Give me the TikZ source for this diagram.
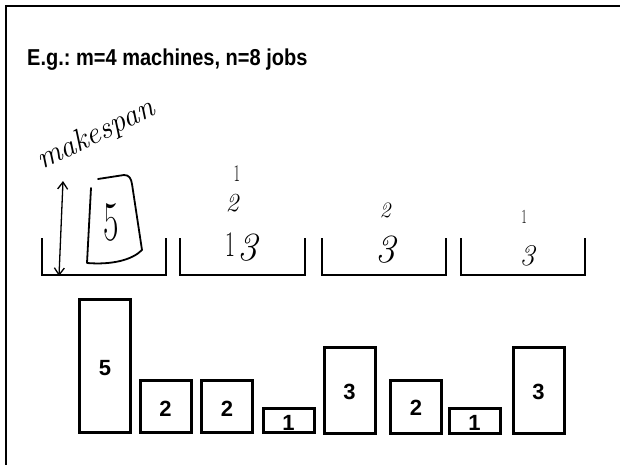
\documentclass[tikz,border=0pt]{standalone}
\usepackage{fontspec}
\newfontfamily\sansb{Liberation Sans}
\usetikzlibrary{arrows.meta}
\frenchspacing
\begin{document}
\begin{tikzpicture}[x=1pt,y=-1pt,
  frame/.style={line width=2.4pt},
  bin/.style={line width=2.6pt},
  jobbox/.style={draw, line width=3pt, minimum width=51pt, inner sep=0pt},
  joblabel/.style={font=\sansb\bfseries\fontsize{22}{22}\selectfont, inner sep=0pt},
  title/.style={font=\sansb\bfseries\fontsize{23}{26}\selectfont, inner sep=0pt, anchor=base west},
  ink/.style={line width=1.8pt, line cap=round, line join=round},
  hw/.style={inner sep=0pt, font=\itshape\fontsize{#1}{#1}\selectfont},
  hd/.style={inner sep=0pt, font=\upshape\fontsize{#1}{#1}\selectfont},
  barb/.tip={Straight Barb[length=7pt,width=10pt]}
]
\fill[white] (0,0) rectangle (620,464);
\useasboundingbox (0,0) rectangle (620,464);
\clip (0,0) rectangle (620,464);
% frame
\draw[frame] (6,470) -- (6,6) -- (630,6);
% title
\node[title] (title) at (27,65) {\scalebox{0.87}[1]{E.g.: m=4 machines, n=8 jobs}};
% machines (bins)
\draw[bin] (42,238) -- (42,275) -- (166,275) -- (166,238);
\draw[bin] (180,238) -- (180,275) -- (305,275) -- (305,238);
\draw[bin] (322,238) -- (322,275) -- (446,275) -- (446,238);
\draw[bin] (461,238) -- (461,275) -- (585,275) -- (585,238);
% jobs
\node[jobbox, minimum height=133pt] (j1) at (105,366) {};
\node[jobbox, minimum height=52pt] (j2) at (165.5,406.5) {};
\node[jobbox, minimum height=52pt] (j3) at (227,406.5) {};
\node[jobbox, minimum height=24pt] (j4) at (288.5,420.5) {};
\node[jobbox, minimum height=86pt] (j5) at (349.5,390.5) {};
\node[jobbox, minimum height=53pt] (j6) at (416,407) {};
\node[jobbox, minimum height=25pt] (j7) at (474.5,421) {};
\node[jobbox, minimum height=86pt] (j8) at (538.5,390.5) {};
\node[joblabel] (l1) at (105,368) {5};
\node[joblabel] (l2) at (165.5,408.5) {2};
\node[joblabel] (l3) at (227,408.5) {2};
\node[joblabel] (l4) at (288.5,423) {1};
\node[joblabel] (l5) at (349.5,392) {3};
\node[joblabel] (l6) at (416,407.5) {2};
\node[joblabel] (l7) at (474.5,422.5) {1};
\node[joblabel] (l8) at (538.5,392) {3};
% handwriting: makespan
\node[hw=31, rotate=26, anchor=base west] (mk) at (42,170) {makespan};
\coordinate (mtop) at (63,181);
\coordinate (mbot) at (59,276);
\draw[ink, line width=1.3pt, barb-barb] (mtop) -- (mbot);
% hand box with 5
\draw[ink] (91,188) -- (87,263) .. controls (112,265) and (132,260) .. (142,250) -- (132,184) .. controls (131,178) and (129,175) .. (124,175) -- (98,179);
\node[hd=56] (h5) at (111,222) {\scalebox{0.6}[1]{5}};
% machine 2
\node[hd=24] (m2a) at (237,174) {\scalebox{0.6}[1]{1}};
\node[hw=26] (m2b) at (232,203) {2};
\node[hd=36] (m2c) at (230,245) {\scalebox{0.6}[1]{1}};
\node[hw=40] (m2d) at (247,248) {3};
% machine 3
\node[hw=22] (m3a) at (385,210) {2};
\node[hw=40] (m3b) at (385,250) {3};
% machine 4
\node[hd=20] (m4a) at (524,217) {\scalebox{0.6}[1]{1}};
\node[hw=30] (m4b) at (527,256) {3};
\end{tikzpicture}
\end{document}
